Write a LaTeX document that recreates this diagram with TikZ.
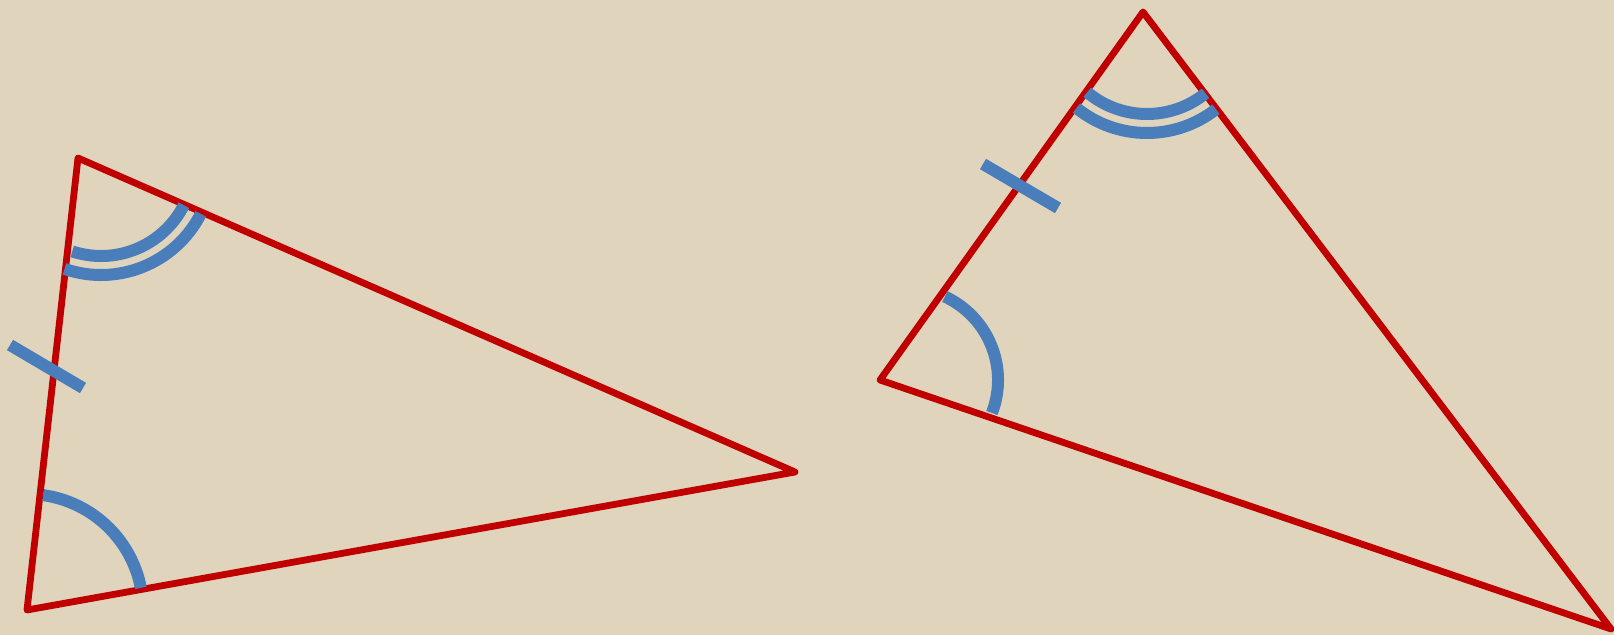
\documentclass[tikz,border=0pt]{standalone}
\usepackage{tikz}
\definecolor{paper}{RGB}{224,212,188}
\definecolor{sidered}{RGB}{192,0,0}
\definecolor{markblue}{RGB}{74,126,187}
\begin{document}
\begin{tikzpicture}[x=1pt, y=1pt,
  redside/.style={draw=sidered, line width=6.8pt, line join=round},
  bluemark/.style={draw=markblue, line width=12pt}]
  % background
  \fill[paper] (0,0) rectangle (1614,635);
  \useasboundingbox (0,0) rectangle (1614,635);

  % vertices
  \coordinate (A) at (78,477);
  \coordinate (B) at (27,25);
  \coordinate (C) at (795,163);
  \coordinate (D) at (1143,623);
  \coordinate (E) at (880,255);
  \coordinate (F) at (1611,6);

  % triangles
  \draw[redside] (A) -- (B) -- (C) -- cycle;
  \draw[redside] (D) -- (E) -- (F) -- cycle;

  % angle marks, left triangle
  \draw[bluemark] (B) ++(11:116) arc[start angle=11, end angle=82, radius=116];
  \coordinate (a1) at (101,472);
  \draw[bluemark] (a1) ++(252:93) arc[start angle=252, end angle=333, radius=93];
  \draw[bluemark] (a1) ++(251:112) arc[start angle=251, end angle=333, radius=112];

  % angle marks, right triangle
  \coordinate (d1) at (1147,614);
  \draw[bluemark] (d1) ++(230:93) arc[start angle=230, end angle=309, radius=93];
  \draw[bluemark] (d1) ++(231:112) arc[start angle=231, end angle=308, radius=112];
  \coordinate (e1) at (906,255);
  \draw[bluemark] (e1) ++(-21:92) arc[start angle=-21, end angle=65, radius=92];

  % tick marks on the equal sides
  \coordinate (t1) at (10,290);  \coordinate (t2) at (83,247);
  \coordinate (t3) at (983,471); \coordinate (t4) at (1058,427);
  \draw[bluemark] (t1) -- (t2);
  \draw[bluemark] (t3) -- (t4);
\end{tikzpicture}
\end{document}
